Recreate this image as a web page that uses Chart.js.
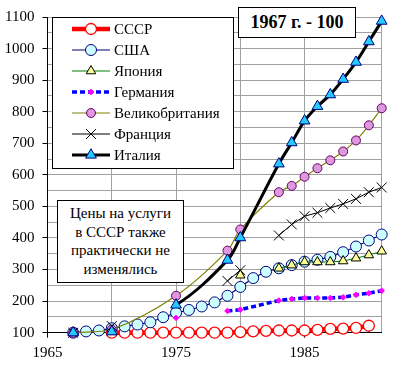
<!DOCTYPE html>
<html>
<head>
<meta charset="utf-8">
<script src="https://cdn.jsdelivr.net/npm/chart.js@4.4.0/dist/chart.umd.min.js"></script>
<style>
  html, body { margin: 0; padding: 0; background: #ffffff; }
  #wrap { position: relative; width: 393px; height: 365px; background: #ffffff; }
  canvas { position: absolute; left: 0; top: 0; }
  .box { position: absolute; background: #ffffff; border: 1px solid #000000; box-sizing: border-box;
         font-family: "Liberation Serif", "Times New Roman", serif; color: #000; text-align: center; }
  #base { left: 238px; top: 7px; width: 118px; height: 31px; font-weight: bold; font-size: 18px; line-height: 29px; }
  #note { left: 57px; top: 200px; width: 127px; height: 83px; font-size: 15px; line-height: 18.7px; padding-top: 3px; }
</style>
</head>
<body>
<div id="wrap">
  <canvas id="c" width="393" height="365"></canvas>
  <div class="box" id="base">1967 г. - 100</div>
  <div class="box" id="note">Цены на услуги<br>в СССР также<br>практически не<br>изменялись</div>
</div>
<script>
// ---- data ----
const years = [1967,1968,1969,1970,1971,1972,1973,1974,1975,1976,1977,1978,1979,1980,1981,1982,1983,1984,1985,1986,1987,1988,1989,1990,1991];
const seriesNames = ["СССР","США","Япония","Германия","Великобритания","Франция","Италия"];
const ussr    = [null,null,null,100,100,100,100,100,100,100,100,100,100,102,104,106,107,107,107,109,112,113,115,122,null];
const usa     = [100,104,107,114,120,126,133,149,163,172,183,196,217,245,273,293,304,314,325,331,340,355,373,392,411];
const japan   = [100,null,null,104,null,null,null,null,null,null,null,null,null,282,null,null,304,314,324,324,324,327,336,346,358];
const germany = [100,null,null,null,null,null,null,null,147,null,null,null,169,173,null,null,202,207,210,210,210,212,220,225,233];
const britain = [100,null,null,110,null,null,null,null,217,null,null,null,360,427,null,null,545,565,594,621,646,674,709,757,811];
const france  = [100,null,null,121,null,null,null,null,null,null,null,null,264,298,null,null,408,443,469,480,495,508,524,545,560];
const italy   = [100,null,null,103,null,null,null,null,188,null,null,null,330,401,null,null,635,702,771,817,854,903,957,1022,1087];
// years after which a series' line is interrupted
const japanBreaks = [1967,1970,1980];
const germanyBreaks = [1967,1975];
const franceBreaks = [1967,1970,1980];
const italyBreaks = [1967,1970];
const xTickLabels = [1965,1975,1985];
const yTickLabels = [100,200,300,400,500,600,700,800,900,1000,1100];

const FONT = '"Liberation Serif", "Times New Roman", serif';

function pts(vals) { return years.map((y, i) => ({ x: y, y: vals[i] })); }
function breaker(vals, list) {
  return {
    borderColor: ctx => {
      let j = ctx.p1DataIndex - 1;
      while (j >= 0 && vals[j] === null) j--;
      return (j >= 0 && list.includes(years[j])) ? 'rgba(0,0,0,0)' : undefined;
    }
  };
}

const styles = [
  { color: '#ff0000', width: 4.5, dash: [], point: 'circle', r: 5.5, fill: '#ffffff', pborder: '#ff0000', pbw: 1.3, tension: 0, breaks: [] },
  { color: '#000080', width: 1.2, dash: [], point: 'circle', r: 5.5, fill: '#ccffff', pborder: '#000080', pbw: 1, tension: 0, breaks: [] },
  { color: '#008000', width: 1, dash: [], point: 'triangle', r: 5.5, fill: '#ffff99', pborder: '#000000', pbw: 1, tension: 0, breaks: japanBreaks },
  { color: '#0000ff', width: 3.5, dash: [5, 3], point: 'rectRot', r: 2.8, fill: '#ff00ff', pborder: '#ff00ff', pbw: 1, tension: 0, breaks: germanyBreaks },
  { color: '#808000', width: 1.2, dash: [], point: 'circle', r: 4.5, fill: '#dd99dd', pborder: '#660066', pbw: 1, tension: 0.35, breaks: [] },
  { color: '#000000', width: 1, dash: [], point: 'crossRot', r: 7, fill: '#000000', pborder: '#000000', pbw: 1, tension: 0, breaks: franceBreaks },
  { color: '#000000', width: 3, dash: [], point: 'triangle', r: 6.2, fill: '#22ccff', pborder: '#000080', pbw: 1, tension: 0.35, breaks: italyBreaks }
];
const values = [ussr, usa, japan, germany, britain, france, italy];

const datasets = values.map((v, i) => {
  const s = styles[i];
  const ds = {
    label: seriesNames[i],
    data: pts(v),
    borderColor: s.color,
    borderWidth: s.width,
    borderDash: s.dash,
    pointStyle: s.point,
    pointRadius: s.r,
    pointBackgroundColor: s.fill,
    pointBorderColor: s.pborder,
    pointBorderWidth: s.pbw,
    tension: s.tension,
    spanGaps: true,
    clip: false,
    order: values.length - i
  };
  if (s.breaks.length) ds.segment = breaker(v, s.breaks);
  return ds;
});

function drawMarker(ctx, s, x, y) {
  ctx.save();
  ctx.fillStyle = s.fill; ctx.strokeStyle = s.pborder; ctx.lineWidth = s.pbw; ctx.setLineDash([]);
  const r = s.r;
  ctx.beginPath();
  if (s.point === 'circle') {
    ctx.arc(x, y, r, 0, Math.PI * 2); ctx.fill(); ctx.stroke();
  } else if (s.point === 'triangle') {
    ctx.moveTo(x, y - r);
    ctx.lineTo(x - r * Math.sin(Math.PI / 3), y + r / 2);
    ctx.lineTo(x + r * Math.sin(Math.PI / 3), y + r / 2);
    ctx.closePath(); ctx.fill(); ctx.stroke();
  } else if (s.point === 'rectRot') {
    ctx.moveTo(x, y - r); ctx.lineTo(x + r, y); ctx.lineTo(x, y + r); ctx.lineTo(x - r, y);
    ctx.closePath(); ctx.fill(); ctx.stroke();
  } else if (s.point === 'crossRot') {
    const o = r * Math.SQRT1_2;
    ctx.moveTo(x - o, y - o); ctx.lineTo(x + o, y + o);
    ctx.moveTo(x - o, y + o); ctx.lineTo(x + o, y - o);
    ctx.stroke();
  }
  ctx.restore();
}

const legendPlugin = {
  id: 'boxLegend',
  afterDraw(chart) {
    const ctx = chart.ctx;
    const L = 52.5, T = 17.5, W = 181, H = 151;
    ctx.save();
    ctx.fillStyle = '#ffffff';
    ctx.fillRect(L, T, W, H);
    ctx.strokeStyle = '#000000'; ctx.lineWidth = 1; ctx.setLineDash([]);
    ctx.strokeRect(L, T, W, H);
    ctx.font = '15px ' + FONT;
    ctx.textBaseline = 'middle';
    ctx.textAlign = 'left';
    seriesNames.forEach((name, i) => {
      const s = styles[i];
      const y = 29 + i * 21;
      ctx.save();
      ctx.strokeStyle = s.color; ctx.lineWidth = s.width; ctx.setLineDash(s.dash);
      ctx.beginPath(); ctx.moveTo(72, y); ctx.lineTo(110, y); ctx.stroke();
      ctx.restore();
      drawMarker(ctx, s, 91, y);
      ctx.fillStyle = '#000000';
      ctx.fillText(name, 114, y + 1);
    });
    ctx.restore();
  }
};

new Chart(document.getElementById('c'), {
  type: 'line',
  data: { datasets },
  plugins: [legendPlugin],
  options: {
    responsive: false,
    animation: false,
    events: [],
    layout: { padding: { top: 13, right: 11.3, left: 0, bottom: 0 } },
    plugins: { legend: { display: false }, tooltip: { enabled: false } },
    scales: {
      x: {
        type: 'linear', min: 1965, max: 1991,
        afterFit: s => { s.height = 32.3; },
        ticks: {
          stepSize: 5, autoSkip: false, maxRotation: 0, padding: 6,
          color: '#000', font: { family: FONT, size: 15 },
          callback: v => xTickLabels.includes(v) ? String(v) : ''
        },
        grid: {
          color: '#a0a0a0', lineWidth: 1, tickLength: 5,
          tickColor: c => (c.tick && c.tick.value === 1991) ? 'rgba(0,0,0,0)' : '#000'
        },
        border: { color: '#000', width: 1 }
      },
      y: {
        type: 'linear', min: 100, max: 1100,
        afterFit: s => { s.width = 47.5; },
        ticks: {
          stepSize: 50, autoSkip: false, padding: 8,
          color: '#000', font: { family: FONT, size: 15 },
          callback: v => yTickLabels.includes(v) ? String(v) : ''
        },
        grid: {
          color: '#a0a0a0', lineWidth: 1, tickLength: 5,
          tickColor: c => (c.tick && yTickLabels.includes(c.tick.value)) ? '#000' : 'rgba(0,0,0,0)'
        },
        border: { color: '#000', width: 1 }
      }
    }
  }
});
</script>
</body>
</html>
